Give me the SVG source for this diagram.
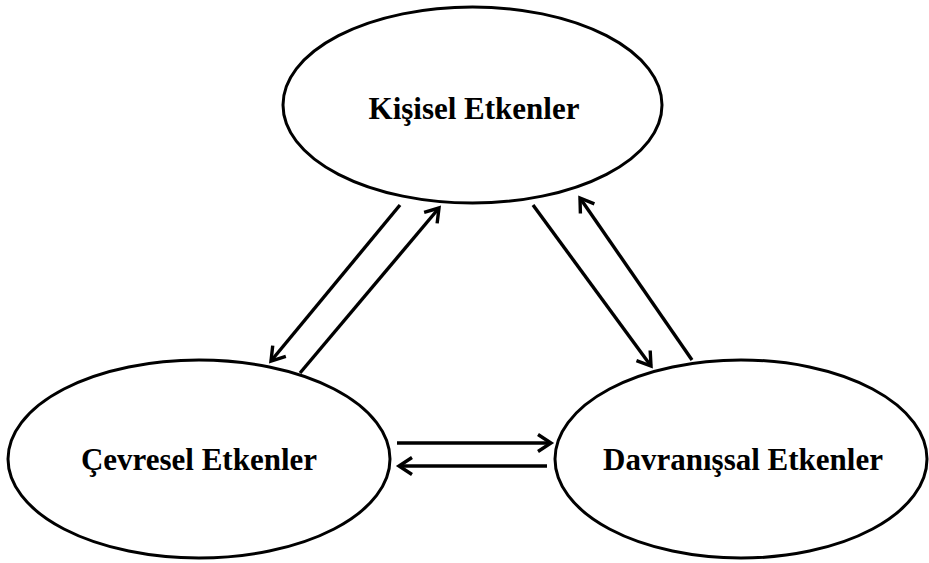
<svg xmlns="http://www.w3.org/2000/svg" width="929" height="563" viewBox="0 0 929 563">
  <style>
    .node ellipse { fill: #fff; stroke: #000; stroke-width: 3; }
    .node text { font-family: "Liberation Serif", "Times New Roman", serif; font-weight: bold; font-size: 31px; fill: #000; text-anchor: middle; }
    .edges line { stroke: #000; stroke-width: 3.4; marker-end: url(#arrow); }
  </style>
  <defs>
    <marker id="arrow" markerUnits="userSpaceOnUse" markerWidth="30" markerHeight="30" viewBox="-20 -15 30 30" refX="0" refY="0" orient="auto" overflow="visible">
      <path d="M-13,-8.5 L0,0 L-13,8.5" fill="none" stroke="#000" stroke-width="3.4"/>
    </marker>
  </defs>
  <rect width="929" height="563" fill="#fff"/>

  <g id="kisisel" class="node">
    <ellipse cx="472.5" cy="105" rx="189.5" ry="98"/>
    <text x="474" y="119">Kişisel Etkenler</text>
  </g>
  <g id="cevresel" class="node">
    <ellipse cx="199" cy="459" rx="191" ry="99"/>
    <text x="199" y="470">Çevresel Etkenler</text>
  </g>
  <g id="davranissal" class="node">
    <ellipse cx="741" cy="459" rx="186" ry="99"/>
    <text x="743" y="470">Davranışsal Etkenler</text>
  </g>

  <g id="connectors" class="edges">
    <line x1="400" y1="205" x2="271" y2="361"/>
    <line x1="300" y1="373" x2="439" y2="208"/>
    <line x1="533" y1="205" x2="651" y2="366"/>
    <line x1="692" y1="360" x2="580" y2="198"/>
    <line x1="397" y1="443" x2="551" y2="443"/>
    <line x1="547" y1="466" x2="399" y2="466"/>
  </g>
</svg>
